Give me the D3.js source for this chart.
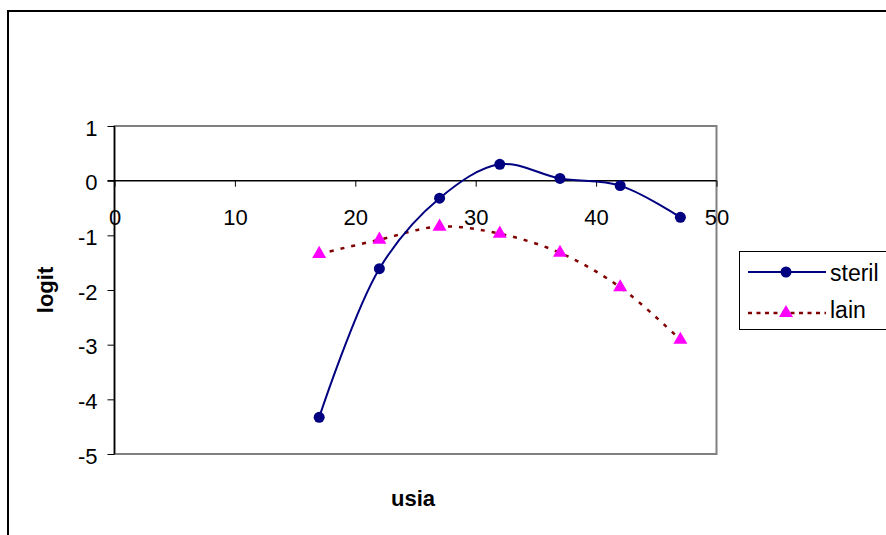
<!DOCTYPE html>
<html>
<head>
<meta charset="utf-8">
<script src="https://cdn.jsdelivr.net/npm/d3@7"></script>
<style>
  body { margin: 0; background: #fff; }
  text { font-family: "Liberation Sans", Arial, sans-serif; }
</style>
</head>
<body>
<div id="chart"></div>
<script>
// data
var usia = [17, 22, 27, 32, 37, 42, 47];
var steril = [-4.33, -1.61, -0.32, 0.30, 0.04, -0.09, -0.67];
var lain = [-1.34, -1.08, -0.84, -0.97, -1.32, -1.95, -2.91];
var xTicks = [0, 10, 20, 30, 40, 50];
var yTicks = [1, 0, -1, -2, -3, -4, -5];

var svg = d3.select("#chart").append("svg")
    .attr("width", 886)
    .attr("height", 535);

// outer chart frame
svg.append("rect")
    .attr("x", 8).attr("y", 11)
    .attr("width", 900).attr("height", 560)
    .attr("fill", "#fff")
    .attr("stroke", "#000")
    .attr("stroke-width", 2);

var x = d3.scaleLinear().domain([0, 50]).range([114.5, 716.5]);
var y = d3.scaleLinear().domain([-5, 1]).range([454, 126]);

// plot area border
svg.append("rect")
    .attr("x", x(0)).attr("y", y(1))
    .attr("width", x(50) - x(0)).attr("height", y(-5) - y(1))
    .attr("fill", "none")
    .attr("stroke", "#808080")
    .attr("stroke-width", 2);

// y axis
var yAxis = d3.axisLeft(y).tickValues(yTicks).tickSize(7).tickPadding(10);
var gy = svg.append("g")
    .attr("transform", "translate(" + x(0) + ",0)")
    .call(yAxis);
gy.select(".domain").remove();
gy.append("line").attr("x1", 0).attr("x2", 0).attr("y1", y(1)).attr("y2", y(-5))
    .attr("stroke", "#000").attr("stroke-width", 1.5);
gy.selectAll(".tick line").attr("stroke", "#000");
gy.selectAll(".tick text").attr("font-size", 22).attr("fill", "#000")
    .attr("dy", "0.42em")
    .text(d => d < 0 ? "-" + Math.abs(d) : d);

// x axis at y = 0
var xAxis = d3.axisBottom(x).tickValues(xTicks).tickSize(6).tickPadding(23);
var gx = svg.append("g")
    .attr("transform", "translate(0," + y(0) + ")")
    .call(xAxis);
gx.select(".domain").remove();
gx.append("line").attr("x1", x(0) - 7).attr("x2", x(50)).attr("y1", 0).attr("y2", 0)
    .attr("stroke", "#000").attr("stroke-width", 1.5);
gx.selectAll(".tick line").attr("stroke", "#000");
gx.selectAll(".tick text").attr("font-size", 22).attr("fill", "#000");

// smoothed lines
var line = d3.line()
    .x((d, i) => x(usia[i]))
    .y(d => y(d))
    .curve(d3.curveCatmullRom.alpha(0.5));

svg.append("path")
    .attr("d", line(lain))
    .attr("fill", "none")
    .attr("stroke", "#800000")
    .attr("stroke-width", 2.5)
    .attr("stroke-dasharray", "4,7");

svg.append("path")
    .attr("d", line(steril))
    .attr("fill", "none")
    .attr("stroke", "#000080")
    .attr("stroke-width", 2);

// markers
svg.selectAll(".dot")
    .data(steril)
    .enter()
    .append("circle")
    .attr("class", "dot")
    .attr("cx", (d, i) => x(usia[i]))
    .attr("cy", d => y(d))
    .attr("r", 5.5)
    .attr("fill", "#000080");

var tri = d3.symbol().type(d3.symbolTriangle).size(85);
svg.selectAll(".tri")
    .data(lain)
    .enter()
    .append("path")
    .attr("class", "tri")
    .attr("d", tri)
    .attr("transform", (d, i) => "translate(" + x(usia[i]) + "," + y(d) + ")")
    .attr("fill", "#ff00ff");

// axis titles
svg.append("text")
    .attr("x", 413).attr("y", 506)
    .attr("text-anchor", "middle")
    .attr("font-size", 22)
    .attr("font-weight", "bold")
    .text("usia");

svg.append("text")
    .attr("transform", "translate(53,290) rotate(-90)")
    .attr("text-anchor", "middle")
    .attr("font-size", 22)
    .attr("font-weight", "bold")
    .text("logit");

// legend
svg.append("rect")
    .attr("x", 739.5).attr("y", 251.5)
    .attr("width", 160).attr("height", 78)
    .attr("fill", "#fff")
    .attr("stroke", "#000")
    .attr("stroke-width", 1);

svg.append("line")
    .attr("x1", 748).attr("x2", 826).attr("y1", 272).attr("y2", 272)
    .attr("stroke", "#000080").attr("stroke-width", 2);
svg.append("circle")
    .attr("cx", 786).attr("cy", 272).attr("r", 5.5)
    .attr("fill", "#000080");
svg.append("text")
    .attr("x", 830).attr("y", 281)
    .attr("font-size", 23)
    .text("steril");

svg.append("line")
    .attr("x1", 748).attr("x2", 826).attr("y1", 313).attr("y2", 313)
    .attr("stroke", "#800000").attr("stroke-width", 2.5)
    .attr("stroke-dasharray", "4,4.5");
svg.append("path")
    .attr("d", tri)
    .attr("transform", "translate(786,313)")
    .attr("fill", "#ff00ff");
svg.append("text")
    .attr("x", 830).attr("y", 318)
    .attr("font-size", 23)
    .text("lain");
</script>
</body>
</html>
